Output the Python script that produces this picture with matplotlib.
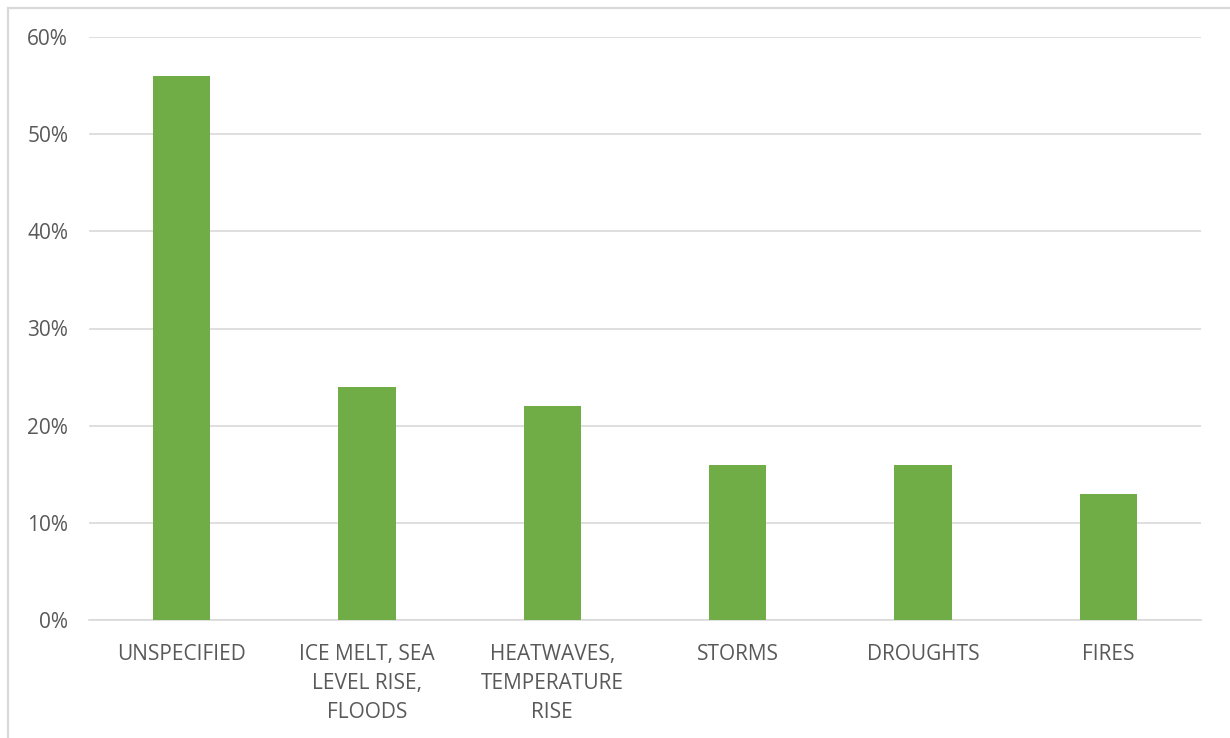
import numpy as np
import matplotlib.pyplot as plt
from matplotlib.patches import Rectangle
from matplotlib.ticker import PercentFormatter

categories = ['UNSPECIFIED', 'ICE MELT, SEA\nLEVEL RISE,\nFLOODS', 'HEATWAVES,\nTEMPERATURE\nRISE',
              'STORMS', 'DROUGHTS', 'FIRES']
shares = [0.56, 0.24, 0.22, 0.16, 0.16, 0.13]
yticks = [0.0, 0.1, 0.2, 0.3, 0.4, 0.5, 0.6]

plt.rcParams['font.family'] = ['Open Sans', 'DejaVu Sans']
text_color = '#595959'
grid_color = '#d9d9d9'

fig = plt.figure(figsize=(12.3, 7.38), dpi=100)
ax = fig.add_axes([89 / 1230, 1 - 620 / 738, (1201 - 89) / 1230, (620 - 37) / 738])

# chart frame, only its left and top edges fall inside the image
fig.patches.append(Rectangle((8 / 1230, -0.1), 1.2, 1 - 8 / 738 + 0.1, transform=fig.transFigure,
                             fill=False, edgecolor=grid_color, linewidth=1.6))

x = np.arange(len(categories))
ax.bar(x, shares, width=0.31, color='#70AD47', zorder=3)

ax.set_xlim(-0.5, len(categories) - 0.5)
ax.set_ylim(0, 0.6)
ax.set_yticks(yticks)
ax.yaxis.set_major_formatter(PercentFormatter(1.0, decimals=0))
ax.set_xticks(x)
ax.set_xticklabels(categories, linespacing=1.5, va='top')

ax.grid(axis='y', color=grid_color, linewidth=1.2, zorder=0)
for side in ['top', 'right', 'left']:
    ax.spines[side].set_visible(False)
ax.spines['bottom'].set_color(grid_color)
ax.spines['bottom'].set_linewidth(1.2)
ax.tick_params(axis='both', length=0, labelsize=15, labelcolor=text_color)
ax.tick_params(axis='x', pad=17.5)
ax.tick_params(axis='y', pad=15)

fig.savefig('out.png', dpi=100)
